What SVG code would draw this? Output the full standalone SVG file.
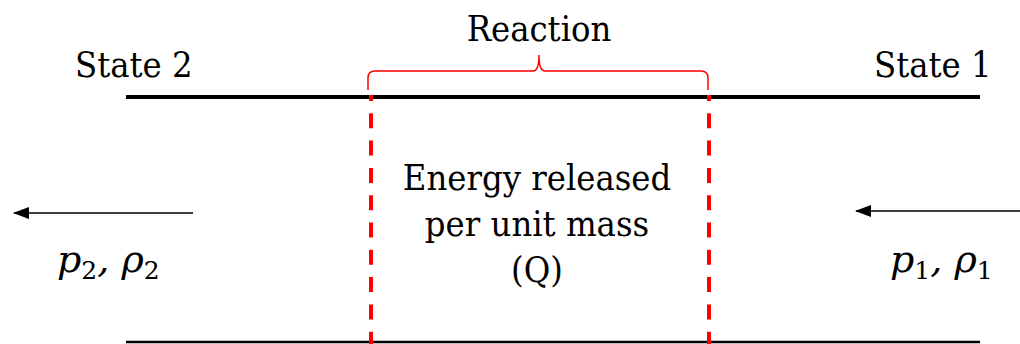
<svg xmlns="http://www.w3.org/2000/svg" width="1020" height="344" viewBox="0 0 1020 344">
<style>
text{font-family:'DejaVu Serif Condensed','DejaVu Serif',serif;fill:#000}
.t{font-size:36px}
.m{font-family:'DejaVu Serif',serif;font-style:italic;font-size:38px}
.s{font-size:25px;font-style:normal}
.dash{stroke:#ff0000;stroke-width:4;stroke-dasharray:15 12.3;fill:none}
</style>
<defs>
<marker id="ah" viewBox="0 0 16 12" refX="15" refY="6" markerWidth="16" markerHeight="12" markerUnits="userSpaceOnUse" orient="auto">
<path d="M0,0 L16,6 L0,12 Z" fill="#000"/>
</marker>
</defs>
<rect width="1020" height="344" fill="#fff"/>
<g id="walls">
<line x1="126" y1="97" x2="980" y2="97" stroke="#000" stroke-width="4"/>
<line x1="126" y1="342" x2="980" y2="342" stroke="#000" stroke-width="2.5"/>
</g>
<g id="reaction">
<line class="dash" x1="371" y1="95" x2="371" y2="344" stroke-dashoffset="9"/>
<line class="dash" x1="709" y1="95" x2="709" y2="344" stroke-dashoffset="9"/>
<path d="M368,90 L368,78 Q368,71 375,71 L533,71 Q539,71 539,55 Q539,71 545,71 L701,71 Q708,71 708,78 L708,90" fill="none" stroke="#ff0000" stroke-width="1.5"/>
<text class="t" x="539" y="41" text-anchor="middle">Reaction</text>
</g>
<g id="state2">
<text class="t" x="75" y="77">State 2</text>
<text class="m" x="57" y="272">p<tspan class="s" dy="7">2</tspan><tspan dy="-7">, ρ</tspan><tspan class="s" dy="7">2</tspan></text>
</g>
<g id="state1">
<text class="t" x="874" y="77">State 1</text>
<text class="m" x="890" y="272">p<tspan class="s" dy="7">1</tspan><tspan dy="-7">, ρ</tspan><tspan class="s" dy="7">1</tspan></text>
</g>
<g id="energy">
<text class="t" x="537" y="190" text-anchor="middle">Energy released</text>
<text class="t" x="537" y="236" text-anchor="middle">per unit mass</text>
<text class="t" x="537" y="282" text-anchor="middle">(Q)</text>
</g>
<g id="connectors">
<line x1="193" y1="213" x2="14" y2="213" stroke="#000" stroke-width="1.5" marker-end="url(#ah)"/>
<line x1="1020" y1="211" x2="856" y2="211" stroke="#000" stroke-width="1.5" marker-end="url(#ah)"/>
</g>
</svg>
